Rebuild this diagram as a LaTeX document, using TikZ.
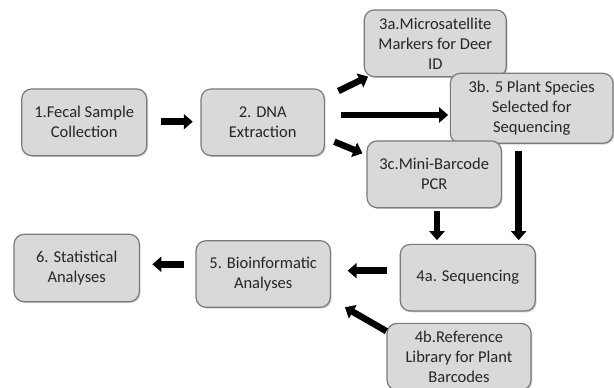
\documentclass[tikz,border=0pt]{standalone}
\usepackage{fontspec}
\setmainfont{Carlito}
\usetikzlibrary{arrows.meta,shadows}
\definecolor{boxfill}{HTML}{D9D9D9}
\definecolor{boxline}{HTML}{7A7A7A}
\definecolor{txt}{HTML}{262626}
\tikzset{
  stepbox/.style={draw=boxline, line width=1.2pt, fill=boxfill, rounded corners=10pt,
    align=center, inner sep=2pt, text=txt, font=\fontsize{16.5}{20}\selectfont,
    drop shadow={shadow xshift=1.3pt, shadow yshift=-1.3pt, opacity=0.35}},
  arr/.style={line width=6.5pt, -{Triangle[length=9pt,width=15pt]}, black}
}
\begin{document}
\begin{tikzpicture}[x=1pt,y=-1pt]
\useasboundingbox[fill=white] (0,0) rectangle (614,388);
\node[stepbox, minimum width=125pt, minimum height=66.7pt] (n1) at (84.2,122.3) {1.Fecal Sample\\Collection};
\node[stepbox, minimum width=123.3pt, minimum height=66.7pt] (n2) at (262.7,122.3) {2. DNA\\Extraction};
\node[stepbox, minimum width=142pt, minimum height=66.7pt] (a3) at (435.3,43.3) {3a.Microsatellite\\Markers for Deer\\ID};
\node[stepbox, minimum width=162.7pt, minimum height=70pt] (b3) at (531.7,108.3) {3b. 5 Plant Species\\Selected for\\Sequencing};
\node[stepbox, minimum width=134.3pt, minimum height=66.7pt] (c3) at (434.2,174.3) {3c.Mini-Barcode\\PCR};
\node[stepbox, minimum width=125.3pt, minimum height=67.4pt] (n6) at (76.7,268) {6. Statistical\\Analyses};
\node[stepbox, minimum width=134.3pt, minimum height=66.6pt] (n5) at (263.2,274) {5. Bioinformatic\\Analyses};
\node[stepbox, minimum width=135pt, minimum height=66.7pt] (a4) at (467.8,277.7) {4a. Sequencing};
\node[stepbox, minimum width=144pt, minimum height=66.7pt] (b4) at (459,356.7) {4b.Reference\\Library for Plant\\Barcodes};

\draw[arr] ([shift={(14,-0.6)}]n1.east) -- ([shift={(-7.7,-0.6)}]n2.west);
\draw[arr] ([shift={(13.4,2.7)}]n2.north east) -- ([shift={(4.4,-0.7)}]a3.south west);
\draw[arr] ([shift={(16,-7.3)}]n2.east) -- ([shift={(-1.6,6.7)}]b3.west);
\draw[arr] ([shift={(9.4,19.4)}]n2.east) -- ([shift={(-4,-21)}]c3.west);
\draw[arr] ([shift={(-13,6.7)}]b3.south) -- ([shift={(50.9,-3.6)}]a4.north);
\draw[arr] ([shift={(2.8,2.3)}]c3.south) -- ([shift={(-30.8,-3.6)}]a4.north);
\draw[arr] ([shift={(-12.6,-7)}]a4.west) -- ([shift={(16.7,-3.3)}]n5.east);
\draw[arr] ([shift={(-11.7,-9.7)}]n5.west) -- ([shift={(12.4,-3.7)}]n6.east);
\draw[arr] ([shift={(0,8.4)}]b4.north west) -- ([shift={(14,-0.6)}]n5.south east);
\end{tikzpicture}
\end{document}
